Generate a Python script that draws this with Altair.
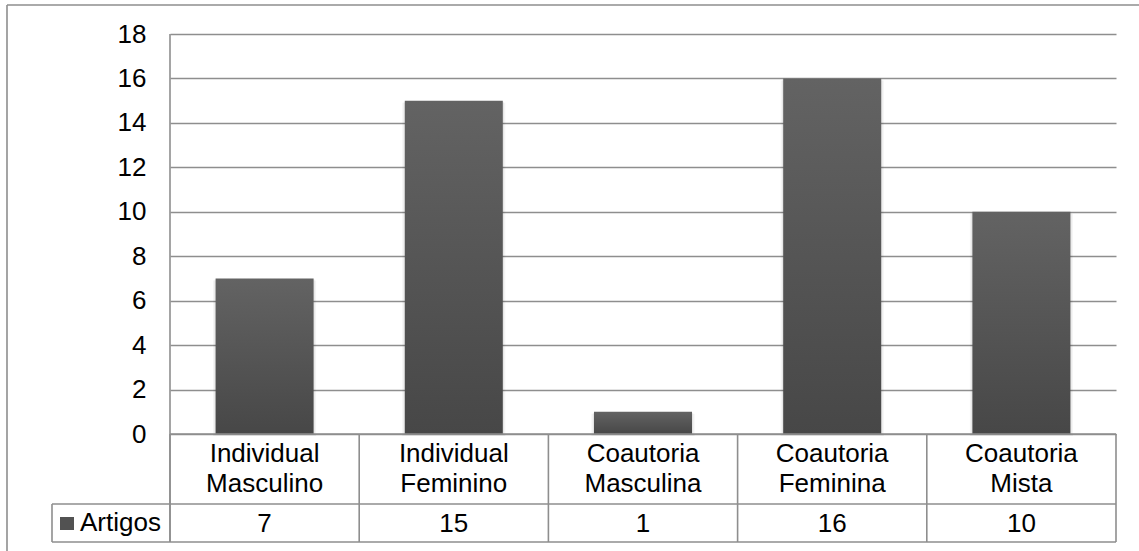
import altair as alt
import pandas as pd

# Article counts by authorship type
categories = [
    "Individual Masculino",
    "Individual Feminino",
    "Coautoria Masculina",
    "Coautoria Feminina",
    "Coautoria Mista",
]
artigos = [7, 15, 1, 16, 10]
y_ticks = [0, 2, 4, 6, 8, 10, 12, 14, 16, 18]
series_name = "Artigos"

df = pd.DataFrame({"cat": categories, "value": artigos})

FONT = "Liberation Sans"
LINE = "#8e8e8e"
W, H = 946, 400

x_band = alt.X(
    "cat:N",
    sort=categories,
    scale=alt.Scale(paddingInner=0, paddingOuter=0),
    axis=None,
)

y_axis = alt.Y(
    "value:Q",
    scale=alt.Scale(domain=[0, 18], nice=False),
    axis=alt.Axis(
        values=y_ticks,
        title=None,
        grid=True,
        gridColor=LINE,
        gridWidth=1.6,
        domain=False,
        ticks=False,
        tickSize=0,
        labelFont=FONT,
        labelFontSize=26,
        labelColor="#000000",
        labelPadding=24,
        labelAlign="right",
    ),
)

bar_fill = alt.Gradient(
    gradient="linear",
    stops=[
        alt.GradientStop(color="#636363", offset=0),
        alt.GradientStop(color="#474747", offset=1),
    ],
    x1=0, x2=0, y1=0, y2=1,
)

# soft drop shadow under each bar
shadow_outer = alt.Chart(df).mark_bar(
    width=alt.RelativeBandSize(0.545), color="#000000", opacity=0.045, yOffset=2
).encode(x=x_band, y=y_axis)
shadow_inner = alt.Chart(df).mark_bar(
    width=alt.RelativeBandSize(0.53), color="#000000", opacity=0.06, yOffset=1
).encode(x=x_band, y=y_axis)

bars = alt.Chart(df).mark_bar(
    width=alt.RelativeBandSize(0.518), color=bar_fill
).encode(x=x_band, y=y_axis)

# data table under the plot: category names and values
cat_text = alt.Chart(df).mark_text(
    font=FONT, fontSize=26, color="#000000", align="center",
    baseline="alphabetic", lineBreak=" ", lineHeight=30,
).encode(x=x_band, y=alt.value(428), text="cat:N")

val_text = alt.Chart(df).mark_text(
    font=FONT, fontSize=26, color="#000000", align="center",
    baseline="alphabetic",
).encode(x=x_band, y=alt.value(498), text="value:Q")

# column separators of the table
col_lines = alt.Chart(df).mark_rule(color=LINE, strokeWidth=1.6).encode(
    x=alt.X("cat:N", sort=categories, bandPosition=0,
            scale=alt.Scale(paddingInner=0, paddingOuter=0), axis=None),
    y=alt.value(400), y2=alt.value(508),
)
last_line = alt.Chart(df.tail(1)).mark_rule(color=LINE, strokeWidth=1.6).encode(
    x=alt.X("cat:N", sort=categories, bandPosition=1,
            scale=alt.Scale(paddingInner=0, paddingOuter=0), axis=None),
    y=alt.value(400), y2=alt.value(508),
)

one = alt.Data(values=[{}])


def hline(x1, x2, y, color=LINE, width=1.6):
    return alt.Chart(one).mark_rule(color=color, strokeWidth=width).encode(
        x=alt.value(x1), x2=alt.value(x2), y=alt.value(y)
    )


def vline(x, y1, y2, color=LINE, width=1.6):
    return alt.Chart(one).mark_rule(color=color, strokeWidth=width).encode(
        x=alt.value(x), y=alt.value(y1), y2=alt.value(y2)
    )


frame = [
    hline(-163, W + 40, -29),          # outer chart border, top
    vline(-163, -29, H + 160),         # outer chart border, left
    vline(0, 0, 508),                  # value axis line down through table
    hline(0, W, 400),                  # table top
    hline(-118, W, 470),               # row divider
    hline(-118, W, 508),               # table bottom
    vline(-118, 470, 508),             # legend cell left edge
]

legend_key = alt.Chart(one).mark_rect(color="#525252").encode(
    x=alt.value(-110), x2=alt.value(-96), y=alt.value(483), y2=alt.value(496)
)
legend_text = alt.Chart(one).mark_text(
    font=FONT, fontSize=26, color="#000000", align="left", baseline="alphabetic"
).encode(x=alt.value(-90), y=alt.value(497), text=alt.value(series_name))

chart = alt.layer(
    shadow_outer, shadow_inner, bars, cat_text, val_text,
    col_lines, last_line, *frame, legend_key, legend_text,
).properties(
    width=W,
    height=H,
    padding={"left": 170, "top": 34, "right": 23, "bottom": 117},
    autosize=alt.AutoSizeParams(type="none"),
    background="#ffffff",
).configure_view(stroke=None)

chart.save("out.html", embed_options={"renderer": "svg", "actions": False})
